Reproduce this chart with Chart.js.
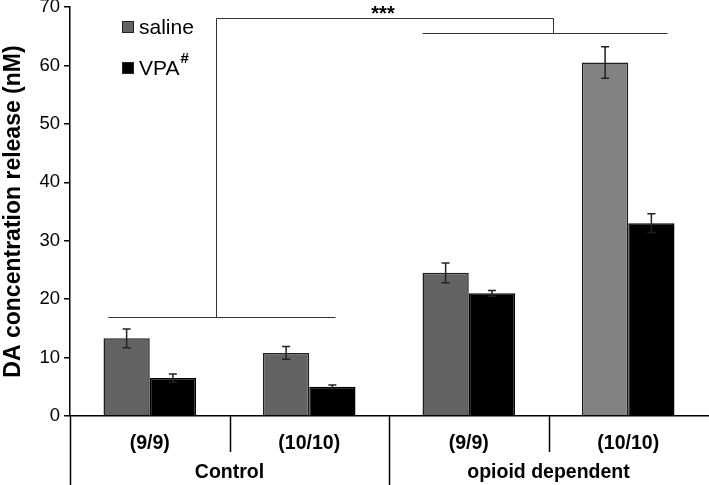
<!DOCTYPE html>
<html><head><meta charset="utf-8">
<script src="https://cdn.jsdelivr.net/npm/chart.js@4"></script>
<style>html,body{margin:0;padding:0;background:#fff}#wrap{width:709px;height:485px}</style>
</head><body><div id="wrap"><canvas id="c" width="709" height="485"></canvas></div>
<script>
const categories = ['(9/9)', '(10/10)', '(9/9)', '(10/10)'];
const groups = ['Control', 'opioid dependent'];
const salineValues = [13.3, 10.8, 24.5, 60.5];
const salineErrors = [1.6, 1.1, 1.7, 2.7];
const vpaValues = [6.5, 5.0, 21.0, 33.0];
const vpaErrors = [0.7, 0.3, 0.5, 1.6];
const yTicks = [0, 10, 20, 30, 40, 50, 60, 70];
// significance brackets in data units [x, y]
const controlBracket = [[-0.26, 16.9], [1.16, 16.9]];
const opioidBracket = [[1.71, 65.5], [3.24, 65.5]];
const connector = [[0.415, 16.9], [0.415, 68.1], [2.53, 68.1], [2.53, 65.5]];
const sigLabel = '***';

const salineColors = ['#636363', '#636363', '#636363', '#828282'];
const FONT = "'Liberation Sans', Arial, sans-serif";

const overlay = {
  id: 'overlay',
  afterDatasetsDraw(chart) {
    const ctx = chart.ctx, x = chart.scales.x, y = chart.scales.y;
    const sets = [salineErrors, vpaErrors];
    const vals = [salineValues, vpaValues];
    ctx.save();
    ctx.strokeStyle = '#222'; ctx.lineWidth = 1.5;
    sets.forEach((errs, di) => {
      chart.getDatasetMeta(di).data.forEach((bar, i) => {
        const top = y.getPixelForValue(vals[di][i] + errs[i]);
        const bot = y.getPixelForValue(vals[di][i] - errs[i]);
        ctx.beginPath();
        ctx.moveTo(bar.x, top); ctx.lineTo(bar.x, bot);
        ctx.moveTo(bar.x - 4, top); ctx.lineTo(bar.x + 4, top);
        ctx.moveTo(bar.x - 4, bot); ctx.lineTo(bar.x + 4, bot);
        ctx.stroke();
      });
    });
    ctx.strokeStyle = '#333'; ctx.lineWidth = 1;
    [controlBracket, opioidBracket, connector].forEach(pts => {
      ctx.beginPath();
      pts.forEach((p, k) => {
        const px = Math.round(x.getPixelForValue(p[0])) + 0.5;
        const py = Math.round(y.getPixelForValue(p[1])) + 0.5;
        k ? ctx.lineTo(px, py) : ctx.moveTo(px, py);
      });
      ctx.stroke();
    });
    ctx.fillStyle = '#000';
    ctx.font = 'bold 20px ' + FONT;
    ctx.textAlign = 'center'; ctx.textBaseline = 'middle';
    ctx.fillText(sigLabel, x.getPixelForValue(1.5) - 6, y.getPixelForValue(68.9) + 1);
    ctx.restore();
  },
  afterDraw(chart) {
    const ctx = chart.ctx, x = chart.scales.x, y = chart.scales.y;
    const base = y.getPixelForValue(0);
    ctx.save();
    ctx.strokeStyle = '#000'; ctx.lineWidth = 1.5;
    [0.5, 1.5, 2.5].forEach((v, k) => {
      const px = Math.round(x.getPixelForValue(v)) + 0.5;
      ctx.beginPath(); ctx.moveTo(px, base);
      ctx.lineTo(px, k === 1 ? chart.height : base + 36);
      ctx.stroke();
    });
    const lx = Math.round(x.left) + 0.5;
    ctx.beginPath(); ctx.moveTo(lx, base); ctx.lineTo(lx, chart.height); ctx.stroke();
    ctx.fillStyle = '#000';
    ctx.font = 'bold 19.5px ' + FONT;
    ctx.textAlign = 'center'; ctx.textBaseline = 'middle';
    ctx.fillText(groups[0], x.getPixelForValue(0.5), base + 57);
    ctx.fillText(groups[1], x.getPixelForValue(2.5), base + 57);
    const lxs = 122;
    const items = [[salineColors[0], 'saline', false], ['#000', 'VPA', true]];
    items.forEach((it, k) => {
      const cy = 27 + k * 41;
      ctx.fillStyle = it[0]; ctx.fillRect(lxs, cy - 6, 12, 12);
      ctx.strokeStyle = '#222'; ctx.lineWidth = 1; ctx.strokeRect(lxs + 0.5, cy - 5.5, 11, 11);
      ctx.fillStyle = '#000'; ctx.font = '21px ' + FONT;
      ctx.textAlign = 'left'; ctx.textBaseline = 'middle';
      ctx.fillText(it[1], lxs + 17, cy + 1);
      if (it[2]) {
        const w = ctx.measureText(it[1]).width;
        ctx.font = 'bold 15px ' + FONT;
        ctx.fillText('#', lxs + 18 + w, cy - 9);
      }
    });
    ctx.restore();
  }
};

new Chart(document.getElementById('c'), {
  type: 'bar',
  data: {
    labels: categories,
    datasets: [
      { label: 'saline', data: salineValues, backgroundColor: salineColors, borderColor: '#1e1e1e', borderWidth: 1.5, borderSkipped: 'bottom' },
      { label: 'VPA#', data: vpaValues, backgroundColor: '#000', borderColor: '#000', borderWidth: 1.5, borderSkipped: 'bottom' }
    ]
  },
  options: {
    responsive: false, animation: false, devicePixelRatio: 1,
    layout: { padding: { top: 0, right: 1, left: 0, bottom: 0 } },
    plugins: { legend: { display: false }, tooltip: { enabled: false } },
    datasets: { bar: { categoryPercentage: 0.58, barPercentage: 1 } },
    scales: {
      x: {
        grid: { display: false },
        border: { display: true, color: '#000', width: 1.5 },
        ticks: { color: '#000', font: { family: FONT, size: 19.5, weight: 'bold' }, padding: 8 },
        afterFit(s) { s.height = 69; }
      },
      y: {
        min: 0, max: 70,
        afterBuildTicks(s) { s.ticks = yTicks.map(v => ({ value: v })); },
        grid: { drawOnChartArea: false, color: '#000', tickLength: 6, lineWidth: 1.5 },
        border: { display: true, color: '#000', width: 1.5 },
        ticks: { color: '#000', font: { family: FONT, size: 18.5 }, padding: 4 },
        title: { display: true, text: 'DA concentration release (nM)', color: '#000', font: { family: FONT, size: 23, weight: 'bold' }, padding: { top: 0, bottom: 4 } },
        afterFit(s) { s.width = 70; s.paddingTop = 7; s.paddingBottom = 0; }
      }
    }
  },
  plugins: [overlay]
});
</script></body></html>
